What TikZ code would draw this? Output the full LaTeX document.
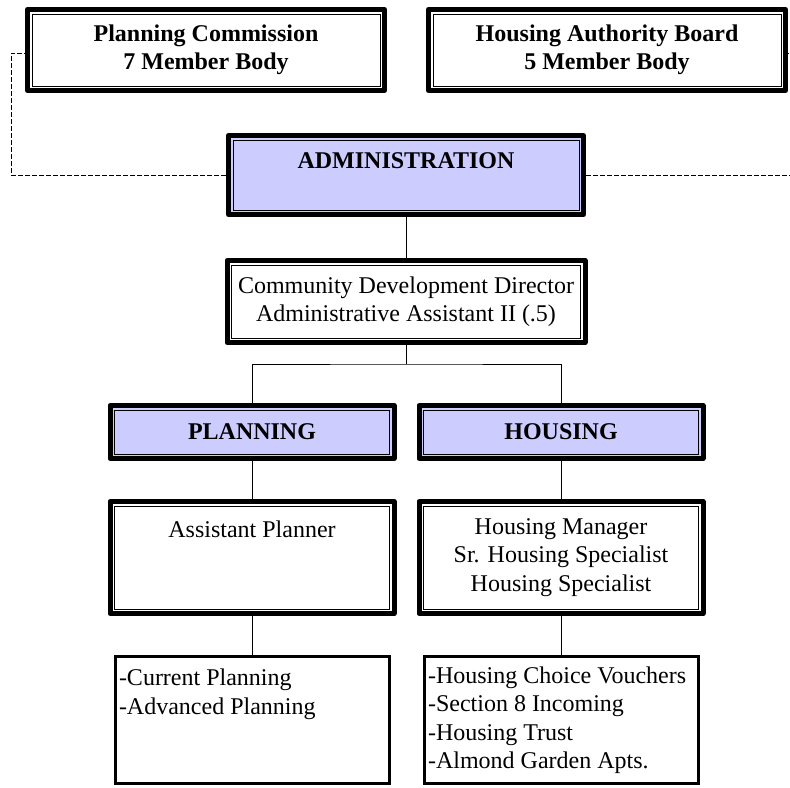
\documentclass[tikz,border=0pt]{standalone}
\usepackage{fontspec}
\setmainfont{Liberation Serif}
\usepackage{tikz}
\definecolor{lavender}{RGB}{204,204,255}
\tikzset{
  bigbox/.style={draw, line width=2.5pt, line join=round, align=center, inner sep=2pt,
    minimum width=142pt, font=\fontsize{12}{14.25}\selectfont},
  topbox/.style={bigbox, minimum width=178.5pt, minimum height=40.5pt,
    font=\fontsize{12}{14.25}\selectfont\bfseries},
  headbox/.style={bigbox, fill=lavender, font=\fontsize{12}{14.25}\selectfont\bfseries},
  listbox/.style={draw, line width=1.5pt, align=flush left, text width=133pt, inner xsep=2pt,
    inner ysep=2pt, minimum height=63.5pt, font=\fontsize{12}{14.25}\selectfont},
  dashline/.style={line width=0.5pt, dash pattern=on 2.5pt off 1pt},
  link/.style={line width=0.5pt}
}

\begin{document}
\begin{tikzpicture}[x=0.5pt,y=-0.5pt]
  \useasboundingbox (0,0) rectangle (790,787);

  % boards
  \node[topbox] (pc) at (206,50) {Planning Commission\\7 Member Body};
  \node[topbox] (hab) at (607,50) {Housing Authority Board\\5 Member Body};

  \node[headbox, minimum width=177.5pt, minimum height=39.5pt] (adm) at (406,175) {ADMINISTRATION\\~};
  \node[bigbox, minimum width=179pt, minimum height=41pt] (cdd) at (406,301.5)
    {Community Development Director\\Administrative Assistant II (.5)};

  % divisions
  \node[headbox, minimum height=26.5pt] (plan) at (252,432) {PLANNING};
  \node[headbox, minimum height=26.5pt] (hous) at (561,432) {HOUSING};

  \node[bigbox, minimum height=56pt] (apl) at (252,557.5) {Assistant Planner\\~\\~};
  \node[bigbox, minimum height=56pt] (hmg) at (561,557.5)
    {Housing Manager\\Sr. Housing Specialist\\Housing Specialist};

  \node[listbox] (plist) at (252,720) {-Current Planning\\-Advanced Planning\\~\\~};
  \node[listbox] (hlist) at (561,720)
    {-Housing Choice Vouchers\\-Section 8 Incoming\\-Housing Trust\\-Almond Garden Apts.};

  % inner thin frame
  \foreach \b in {pc,hab,adm,cdd,plan,hous,apl,hmg}
    \draw[line width=0.5pt] ([xshift=3.5pt,yshift=-3.5pt]\b.north west) rectangle ([xshift=-3.5pt,yshift=3.5pt]\b.south east);

  % dashed advisory lines
  \coordinate (lft) at (11,175);
  \coordinate (rgt) at (791,175);
  \draw[dashline] (adm.west) -- (lft) |- ([yshift=-1.5pt]pc.west);
  \draw[dashline] (adm.east) -- (rgt) |- ([yshift=-1.5pt]hab.east);

  % solid links
  \coordinate (split) at (406,364);
  \draw[link] (adm.south) -- (cdd.north);
  \draw[link] (cdd.south) -- (split);
  \draw[link] (plan.north) |- (split) -| (hous.north);
  \draw[link] (plan.south) -- (apl.north);
  \draw[link] (hous.south) -- (hmg.north);
  \draw[link] (apl.south) -- (plist.north);
  \draw[link] (hmg.south) -- (hlist.north);

\end{tikzpicture}
\end{document}
